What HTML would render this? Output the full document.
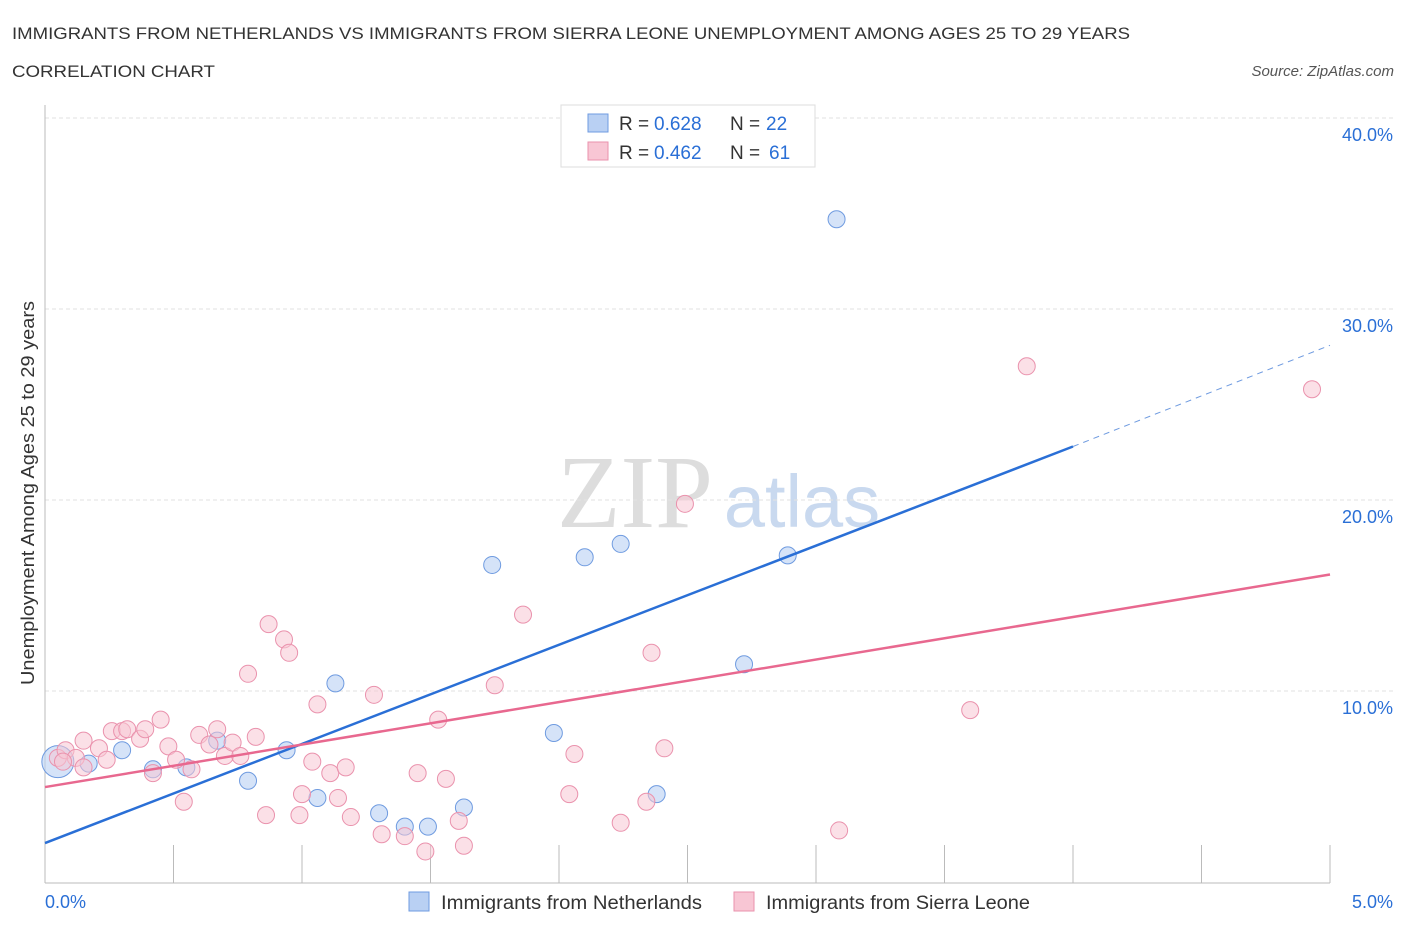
<!DOCTYPE html>
<html><head><meta charset="utf-8"><style>
body{margin:0;background:#fff;font-family:"Liberation Sans",sans-serif;}
svg{display:block}
</style></head><body>
<svg id="chart" width="1406" height="930">
<text x="12" y="39" font-size="17" fill="#333" textLength="1118" lengthAdjust="spacingAndGlyphs">IMMIGRANTS FROM NETHERLANDS VS IMMIGRANTS FROM SIERRA LEONE UNEMPLOYMENT AMONG AGES 25 TO 29 YEARS</text>
<text x="12" y="77" font-size="17" fill="#333" textLength="203" lengthAdjust="spacingAndGlyphs">CORRELATION CHART</text>
<text x="1394" y="76" font-size="15" fill="#555" font-style="italic" text-anchor="end">Source: ZipAtlas.com</text>
<text x="635" y="527" font-size="104" fill="#ddd" font-family="Liberation Serif" text-anchor="middle">ZIP</text>
<text x="802" y="527" font-size="74" fill="#c9d9ef" text-anchor="middle">atlas</text>
<text transform="translate(34,493) rotate(-90)" font-size="18" fill="#333" text-anchor="middle" textLength="384" lengthAdjust="spacingAndGlyphs">Unemployment Among Ages 25 to 29 years</text>
<g id="grid"></g><g id="marks"></g>
<g>
<rect x="561" y="105" width="254" height="62" fill="#fff" stroke="#ddd"/>
<rect x="588" y="114" width="20" height="18" fill="#b9d0f3" stroke="#6f9be0"/>
<rect x="588" y="142" width="20" height="18" fill="#f8c6d4" stroke="#ea92ad"/>
<text y="130" font-size="19" fill="#333"><tspan x="619">R =</tspan><tspan x="654" fill="#2a6fd6">0.628</tspan><tspan x="730">N =</tspan><tspan x="766" fill="#2a6fd6">22</tspan></text>
<text y="159" font-size="19" fill="#333"><tspan x="619">R =</tspan><tspan x="654" fill="#2a6fd6">0.462</tspan><tspan x="730">N =</tspan><tspan x="769" fill="#2a6fd6">61</tspan></text>
</g>
<g>
<rect x="409" y="892" width="20" height="19" fill="#b9d0f3" stroke="#6f9be0"/>
<text x="441" y="909" font-size="19" fill="#333" textLength="261" lengthAdjust="spacingAndGlyphs">Immigrants from Netherlands</text>
<rect x="734" y="892" width="20" height="19" fill="#f8c6d4" stroke="#ea92ad"/>
<text x="766" y="909" font-size="19" fill="#333" textLength="264" lengthAdjust="spacingAndGlyphs">Immigrants from Sierra Leone</text>
</g>
<text x="45" y="908" font-size="18" fill="#2a6fd6">0.0%</text>
<text x="1393" y="908" font-size="18" fill="#2a6fd6" text-anchor="end">5.0%</text>
</svg>
<script>
const yTicks=[10,20,30,40];
const yTickLabels=["10.0%","20.0%","30.0%","40.0%"];
const blueX=[0.05,0.17,0.30,0.42,0.55,0.67,0.79,0.94,1.06,1.13,1.30,1.40,1.49,1.63,1.74,1.98,2.10,2.24,2.38,2.72,2.89,3.08];
const blueY=[6.3,6.2,6.9,5.9,6.0,7.4,5.3,6.9,4.4,10.4,3.6,2.9,2.9,3.9,16.6,7.8,17.0,17.7,4.6,11.4,17.1,34.7];
const pinkX=[0.05,0.08,0.12,0.15,0.21,0.24,0.26,0.30,0.32,0.37,0.39,0.42,0.45,0.48,0.51,0.54,0.57,0.60,0.64,0.67,0.70,0.73,0.76,0.79,0.82,0.86,0.87,0.93,0.95,0.99,1.00,1.04,1.06,1.11,1.14,1.17,1.19,1.28,1.31,1.40,1.45,1.48,1.53,1.56,1.61,1.63,1.75,1.86,2.04,2.06,2.24,2.34,2.36,2.41,2.49,3.09,3.60,3.82,4.93,0.07,0.15];
const pinkY=[6.5,6.9,6.5,7.4,7.0,6.4,7.9,7.9,8.0,7.5,8.0,5.7,8.5,7.1,6.4,4.2,5.9,7.7,7.2,8.0,6.6,7.3,6.6,10.9,7.6,3.5,13.5,12.7,12.0,3.5,4.6,6.3,9.3,5.7,4.4,6.0,3.4,9.8,2.5,2.4,5.7,1.6,8.5,5.4,3.2,1.9,10.3,14.0,4.6,6.7,3.1,4.2,12.0,7.0,19.8,2.7,9.0,27.0,25.8,6.3,6.0];
const blueLine=[[0,2.04],[4.0,22.8]];
const blueDash=[[4.0,22.8],[5.0,28.1]];
const pinkLine=[[0,4.97],[5.0,16.1]];
const X=v=>45+v*257, Y=v=>882-v*19.1;
const NS="http://www.w3.org/2000/svg";
const grid=document.getElementById('grid'), marks=document.getElementById('marks');
function mk(tag,attrs,parent){const e=document.createElementNS(NS,tag);for(const k in attrs)e.setAttribute(k,attrs[k]);parent.appendChild(e);return e;}
yTicks.forEach((t,i)=>{
 const l=mk('line',{x1:45,x2:1393,y1:Y(t),y2:Y(t),stroke:'#e2e2e2','stroke-dasharray':'4,3'},grid);
 
 
 const tx=mk('text',{x:1393,y:Y(t)+23,'font-size':18,fill:'#2a6fd6','text-anchor':'end'},grid);
 tx.textContent=yTickLabels[i];
 
 
});
const ax=mk('line',{x1:45,x2:45,y1:105,y2:883,stroke:'#bbb'},grid);


const bx=mk('line',{x1:45,x2:1330,y1:883,y2:883,stroke:'#bbb'},grid);


for(let k=1;k<=10;k++){const t=mk('line',{x1:X(k*0.5),x2:X(k*0.5),y1:845,y2:883,stroke:'#bbb'},grid);
 
 }
blueX.forEach((x,i)=>{const c=mk('circle',{cx:X(x),cy:Y(blueY[i]),r:i==0?16:8.5,fill:'#b9d0f3','fill-opacity':0.6,stroke:'#6f9be0','stroke-width':1},marks);
 
 });
pinkX.forEach((x,i)=>{const c=mk('circle',{cx:X(x),cy:Y(pinkY[i]),r:8.5,fill:'#f8c6d4','fill-opacity':0.55,stroke:'#ea92ad','stroke-width':1},marks);
 
 });
function ln(p,col,dash,name){const l=mk('line',{x1:X(p[0][0]),y1:Y(p[0][1]),x2:X(p[1][0]),y2:Y(p[1][1]),stroke:col,'stroke-width':dash?1:2.5},marks);
 if(dash)l.setAttribute('stroke-dasharray','6,5');
 
 }
ln(blueLine,'#2a6fd6',false,'netherlands-trendline');
ln(blueDash,'#6f9be0',true,'netherlands-trendline-extension');
ln(pinkLine,'#e8688f',false,'sierra-leone-trendline');
</script>
</body></html>
